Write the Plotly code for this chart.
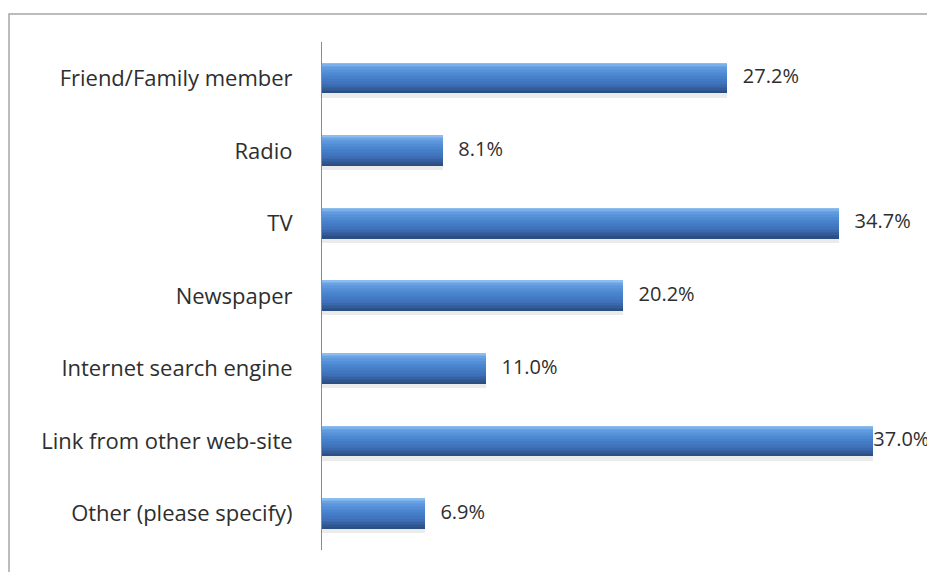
import plotly.graph_objects as go

categories = ["Friend/Family member", "Radio", "TV", "Newspaper",
              "Internet search engine", "Link from other web-site",
              "Other (please specify)"]
values = [27.2, 8.1, 34.7, 20.2, 11.0, 37.0, 6.9]

# page body adds an 8px offset; figure is sized/positioned to compensate
W, H = 927, 564
L, R, T, B = 314, 17, 34, 22
BAR_W = 0.415
FONT = "Open Sans, Noto Sans, sans-serif"

def lerp(c1, c2, t):
    return tuple(int(round(a + (b - a) * t)) for a, b in zip(c1, c2))

stops = [(0.0, (150, 195, 240)), (0.15, (98, 156, 225)), (0.45, (72, 131, 205)),
         (0.72, (62, 112, 185)), (1.0, (42, 76, 126))]

def grad(t):
    for (t0, c0), (t1, c1) in zip(stops, stops[1:]):
        if t <= t1:
            return lerp(c0, c1, (t - t0) / (t1 - t0))
    return stops[-1][1]

fig = go.Figure()

# soft shadow under bars
fig.add_trace(go.Bar(x=values, y=categories, orientation="h",
                     width=BAR_W + 0.03, offset=-BAR_W / 2 + 0.03,
                     marker=dict(color="rgba(0,0,0,0.08)", line=dict(width=0)),
                     hoverinfo="skip", showlegend=False))

N = 20
for i in range(N):
    t = (i + 0.5) / N
    c = grad(t)
    fig.add_trace(go.Bar(x=values, y=categories, orientation="h",
                         width=BAR_W / N + 0.002,
                         offset=-BAR_W / 2 + i * BAR_W / N,
                         marker=dict(color="rgb(%d,%d,%d)" % c, line=dict(width=0)),
                         hoverinfo="skip", showlegend=False))

vmax = max(values)
labels = [("%.1f%%" % v) if v == vmax else ("   %.1f%%" % v) for v in values]
fig.add_trace(go.Scatter(x=values, y=categories, mode="text",
                         text=labels,
                         textposition="middle right",
                         textfont=dict(family=FONT, size=20, color="#2e2e2e"),
                         cliponaxis=False, hoverinfo="skip", showlegend=False))

fig.update_layout(
    width=W, height=H, barmode="overlay", bargap=0,
    margin=dict(l=L, r=R, t=T, b=B, pad=0),
    paper_bgcolor="white", plot_bgcolor="white",
    xaxis=dict(range=[0, 40], showgrid=False, zeroline=False, showticklabels=False,
               showline=False, ticks=""),
    yaxis=dict(autorange="reversed", showgrid=False, zeroline=False,
               showline=True, linecolor="#8a8a8a", linewidth=1, ticks="",
               ticklabelstandoff=24,
               tickfont=dict(family=FONT, size=22, color="#2e2e2e")),
    shapes=[dict(type="rect", xref="paper", yref="paper",
                 x0=(1 - L) / (W - L - R), x1=1.2,
                 y0=-0.2, y1=1 + (T - 6) / (H - T - B),
                 line=dict(color="#a6a6a6", width=1.5), fillcolor="rgba(0,0,0,0)", layer="below")],
)

fig.write_html("out.html")
